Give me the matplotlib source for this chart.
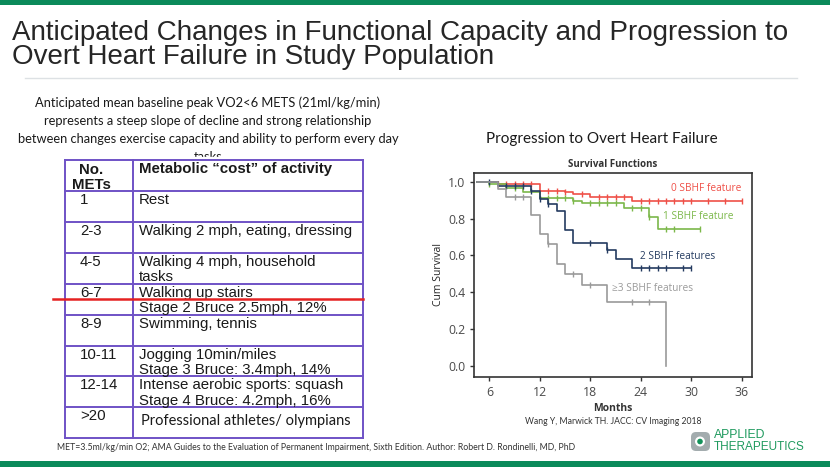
import numpy as np
import matplotlib
matplotlib.use('Agg')
import matplotlib.pyplot as plt
from matplotlib.patches import Rectangle, FancyBboxPatch, Circle

# --- slide text ---
title_lines = ["Anticipated Changes in Functional Capacity and Progression to",
               "Overt Heart Failure in Study Population"]
para_lines = ["Anticipated mean baseline peak VO2<6 METS (21ml/kg/min)",
              "represents a steep slope of decline and strong relationship",
              "between changes exercise capacity and ability to perform every day",
              "tasks"]
footnote = ("MET=3.5ml/kg/min O2; AMA Guides to the Evaluation of Permanent Impairment, "
            "Sixth Edition. Author: Robert D. Rondinelli, MD, PhD")
citation = "Wang Y, Marwick TH. JACC: CV Imaging 2018"

# --- table data ---
mets = ["1", "2-3", "4-5", "6-7", "8-9", "10-11", "12-14", ">20"]
activities = ["Rest",
              "Walking 2 mph, eating, dressing",
              "Walking 4 mph, household\ntasks",
              "Walking up stairs\nStage 2 Bruce 2.5mph, 12%",
              "Swimming, tennis",
              "Jogging 10min/miles\nStage 3 Bruce: 3.4mph, 14%",
              "Intense aerobic sports: squash\nStage 4 Bruce: 4.2mph, 16%",
              "Professional athletes/ olympians"]

# --- survival curves (step times, survival, censor times) ---
red_t = [4.5, 7, 12, 15, 16, 18, 23, 36]
red_s = [1.0, 0.99, 0.953, 0.943, 0.933, 0.917, 0.897, 0.897]
red_c = [7, 8, 9, 10, 11, 13, 14, 15, 17, 19, 20, 21, 22, 24, 25, 26, 27, 28, 29, 30, 32, 34, 36]

green_t = [4.5, 6, 8, 10, 12, 16, 17, 22, 25, 26, 31]
green_s = [1.0, 0.99, 0.969, 0.947, 0.911, 0.898, 0.884, 0.858, 0.811, 0.745, 0.745]
green_c = [6, 9, 13, 14, 15, 16, 18, 19, 20, 21, 23, 24, 25, 27, 28, 31]

navy_t = [4.5, 7, 11, 12, 13, 14, 15, 16, 20, 21, 23, 30]
navy_s = [1.0, 0.98, 0.953, 0.906, 0.877, 0.842, 0.740, 0.668, 0.628, 0.581, 0.532, 0.532]
navy_c = [6, 8, 9, 10, 11, 12, 13, 18, 20, 24, 25, 26, 27, 29, 30]

gray_t = [4.5, 7, 8, 11, 12, 13, 14, 15, 17, 20, 27, 27]
gray_s = [1.0, 0.96, 0.917, 0.818, 0.717, 0.664, 0.555, 0.499, 0.437, 0.348, 0.0, 0.0]
gray_c = [9, 10, 13, 16, 18, 23, 25]

series = [
    (red_t, red_s, red_c, '#ef5048', "0 SBHF feature", 36, 0.964, 'right'),
    (green_t, green_s, green_c, '#7cb84a', "1 SBHF feature", 26.6, 0.811, 'left'),
    (navy_t, navy_s, navy_c, '#243b60', "2 SBHF features", 23.9, 0.593, 'left'),
    (gray_t, gray_s, gray_c, '#9a9a9a', "\u22653 SBHF features", 20.6, 0.419, 'left'),
]

W, H = 830, 467
fig = plt.figure(figsize=(W / 100, H / 100), dpi=100)
bg = fig.add_axes([0, 0, 1, 1], zorder=0)
bg.set_xlim(0, W)
bg.set_ylim(H, 0)
bg.axis('off')

# green bars
bg.add_patch(Rectangle((0, 0), W, 5, color='#0b8a5a', lw=0))
bg.add_patch(Rectangle((0, 461), W, 6, color='#0b8a5a', lw=0))

# title
for i, line in enumerate(title_lines):
    bg.text(12, 33 + i * 24, line, fontsize=20, family='Liberation Sans',
            color='#262626', va='center', ha='left')
bg.plot([25, 797], [78, 78], color='#dde1e4', lw=1)

# paragraph
for i, line in enumerate(para_lines):
    bg.text(208, 103 + i * 18, line, fontsize=9.3, family='Lato',
            color='#1a1a1a', ha='center', va='center')

bg.text(602, 139, "Progression to Overt Heart Failure", fontsize=11, family='Lato',
        color='#1a1a1a', ha='center', va='center')

# table
rows_y = np.linspace(160, 438.3, 10)
tx0, tx1, tx2 = 65, 132.7, 363
bg.add_patch(Rectangle((tx0, 157), tx2 - tx0, 284, color='white', zorder=4))
lc = '#6f52c6'
for y in rows_y:
    bg.plot([tx0, tx2], [y, y], color=lc, lw=1.4, zorder=5)
for x in [tx0, tx1, tx2]:
    bg.plot([x, x], [rows_y[0], rows_y[-1]], color=lc, lw=1.4, zorder=5)
bg.text(91, 163, "No.\nMETs", fontsize=10.8, fontweight='bold', family='Liberation Sans',
        color='#1a1a1a', va='top', ha='center', multialignment='center',
        linespacing=1.1, zorder=6)
bg.text(139, 162, "Metabolic \u201ccost\u201d of activity", fontsize=10.8, fontweight='bold',
        family='Liberation Sans', color='#1a1a1a', va='top', ha='left', zorder=6)
for i, (m, a) in enumerate(zip(mets, activities)):
    top = rows_y[i + 1]
    bg.text(80, top + 2, m, fontsize=10.8, family='Liberation Sans', color='#1a1a1a',
            va='top', ha='left', zorder=6)
    if i == len(mets) - 1:
        bg.text(141, top + 14, a, fontsize=10.5, family='Lato', color='#1a1a1a',
                va='center', ha='left', zorder=6)
    else:
        bg.text(139, top + 2, a, fontsize=10.8, family='Liberation Sans', color='#1a1a1a',
                va='top', ha='left', linespacing=1.1, zorder=6)
bg.plot([53, 363], [298.5, 298.5], color='#e52222', lw=1.8, zorder=7)

# footnote, citation
bg.text(57, 448, footnote, fontsize=6.3, family='Lato', color='#333333',
        va='center', ha='left')
bg.text(613, 421, citation, fontsize=6.2, family='Lato', color='#333333',
        va='center', ha='center')

# logo
bg.add_patch(FancyBboxPatch((691, 432), 19, 19, boxstyle='round,pad=0,rounding_size=5',
                            color='#a3acae', lw=0))
bg.add_patch(Circle((700, 441.5), 5, color='white', lw=0))
bg.add_patch(Circle((700, 441.5), 2.8, color='#13925a', lw=0))
bg.text(714, 435.5, "APPLIED", fontsize=8.8, family='Liberation Sans', color='#1f9a5e',
        va='center', ha='left')
bg.text(714, 447, "THERAPEUTICS", fontsize=8.5, family='Liberation Sans', color='#1f9a5e',
        va='center', ha='left')

# survival chart
ax = fig.add_axes([474.3 / W, 1 - 376.7 / H, (751.7 - 474.3) / W, (376.7 - 172.7) / H], zorder=2)
for t, s, c, col, lab, lx, ly, ha in series:
    ax.step(t, s, where='post', color=col, lw=1.2)
    idx = np.searchsorted(t, c, side='right') - 1
    cy = np.array(s)[np.clip(idx, 0, len(s) - 1)]
    ax.plot(c, cy, ls='none', marker='|', ms=4, mew=1, color=col)
    ax.text(lx, ly, lab, color=col, fontsize=7.3, family='Open Sans', ha=ha, va='center')

ax.set_xlim(4.2, 37.2)
ax.set_ylim(-0.06, 1.05)
ax.set_xticks([6, 12, 18, 24, 30, 36])
ax.set_yticks([0.0, 0.2, 0.4, 0.6, 0.8, 1.0])
ax.set_yticklabels(['0.0', '0.2', '0.4', '0.6', '0.8', '1.0'])
for sp in ax.spines.values():
    sp.set_color('#333333')
    sp.set_linewidth(1.2)
ax.tick_params(colors='#333333', labelcolor='#4a4a4a', labelsize=8.8, length=3, width=1)
for lbl in ax.get_xticklabels() + ax.get_yticklabels():
    lbl.set_family('Open Sans')
ax.set_xlabel("Months", fontsize=7.5, fontweight='bold', family='Open Sans', color='#333333',
              labelpad=3)
ax.set_ylabel("Cum Survival", fontsize=7.5, family='Open Sans', color='#222222', labelpad=3)
ax.set_title("Survival Functions", fontsize=7, fontweight='bold', family='Open Sans',
             color='#333333', pad=4)

fig.savefig('out.png', dpi=100)
